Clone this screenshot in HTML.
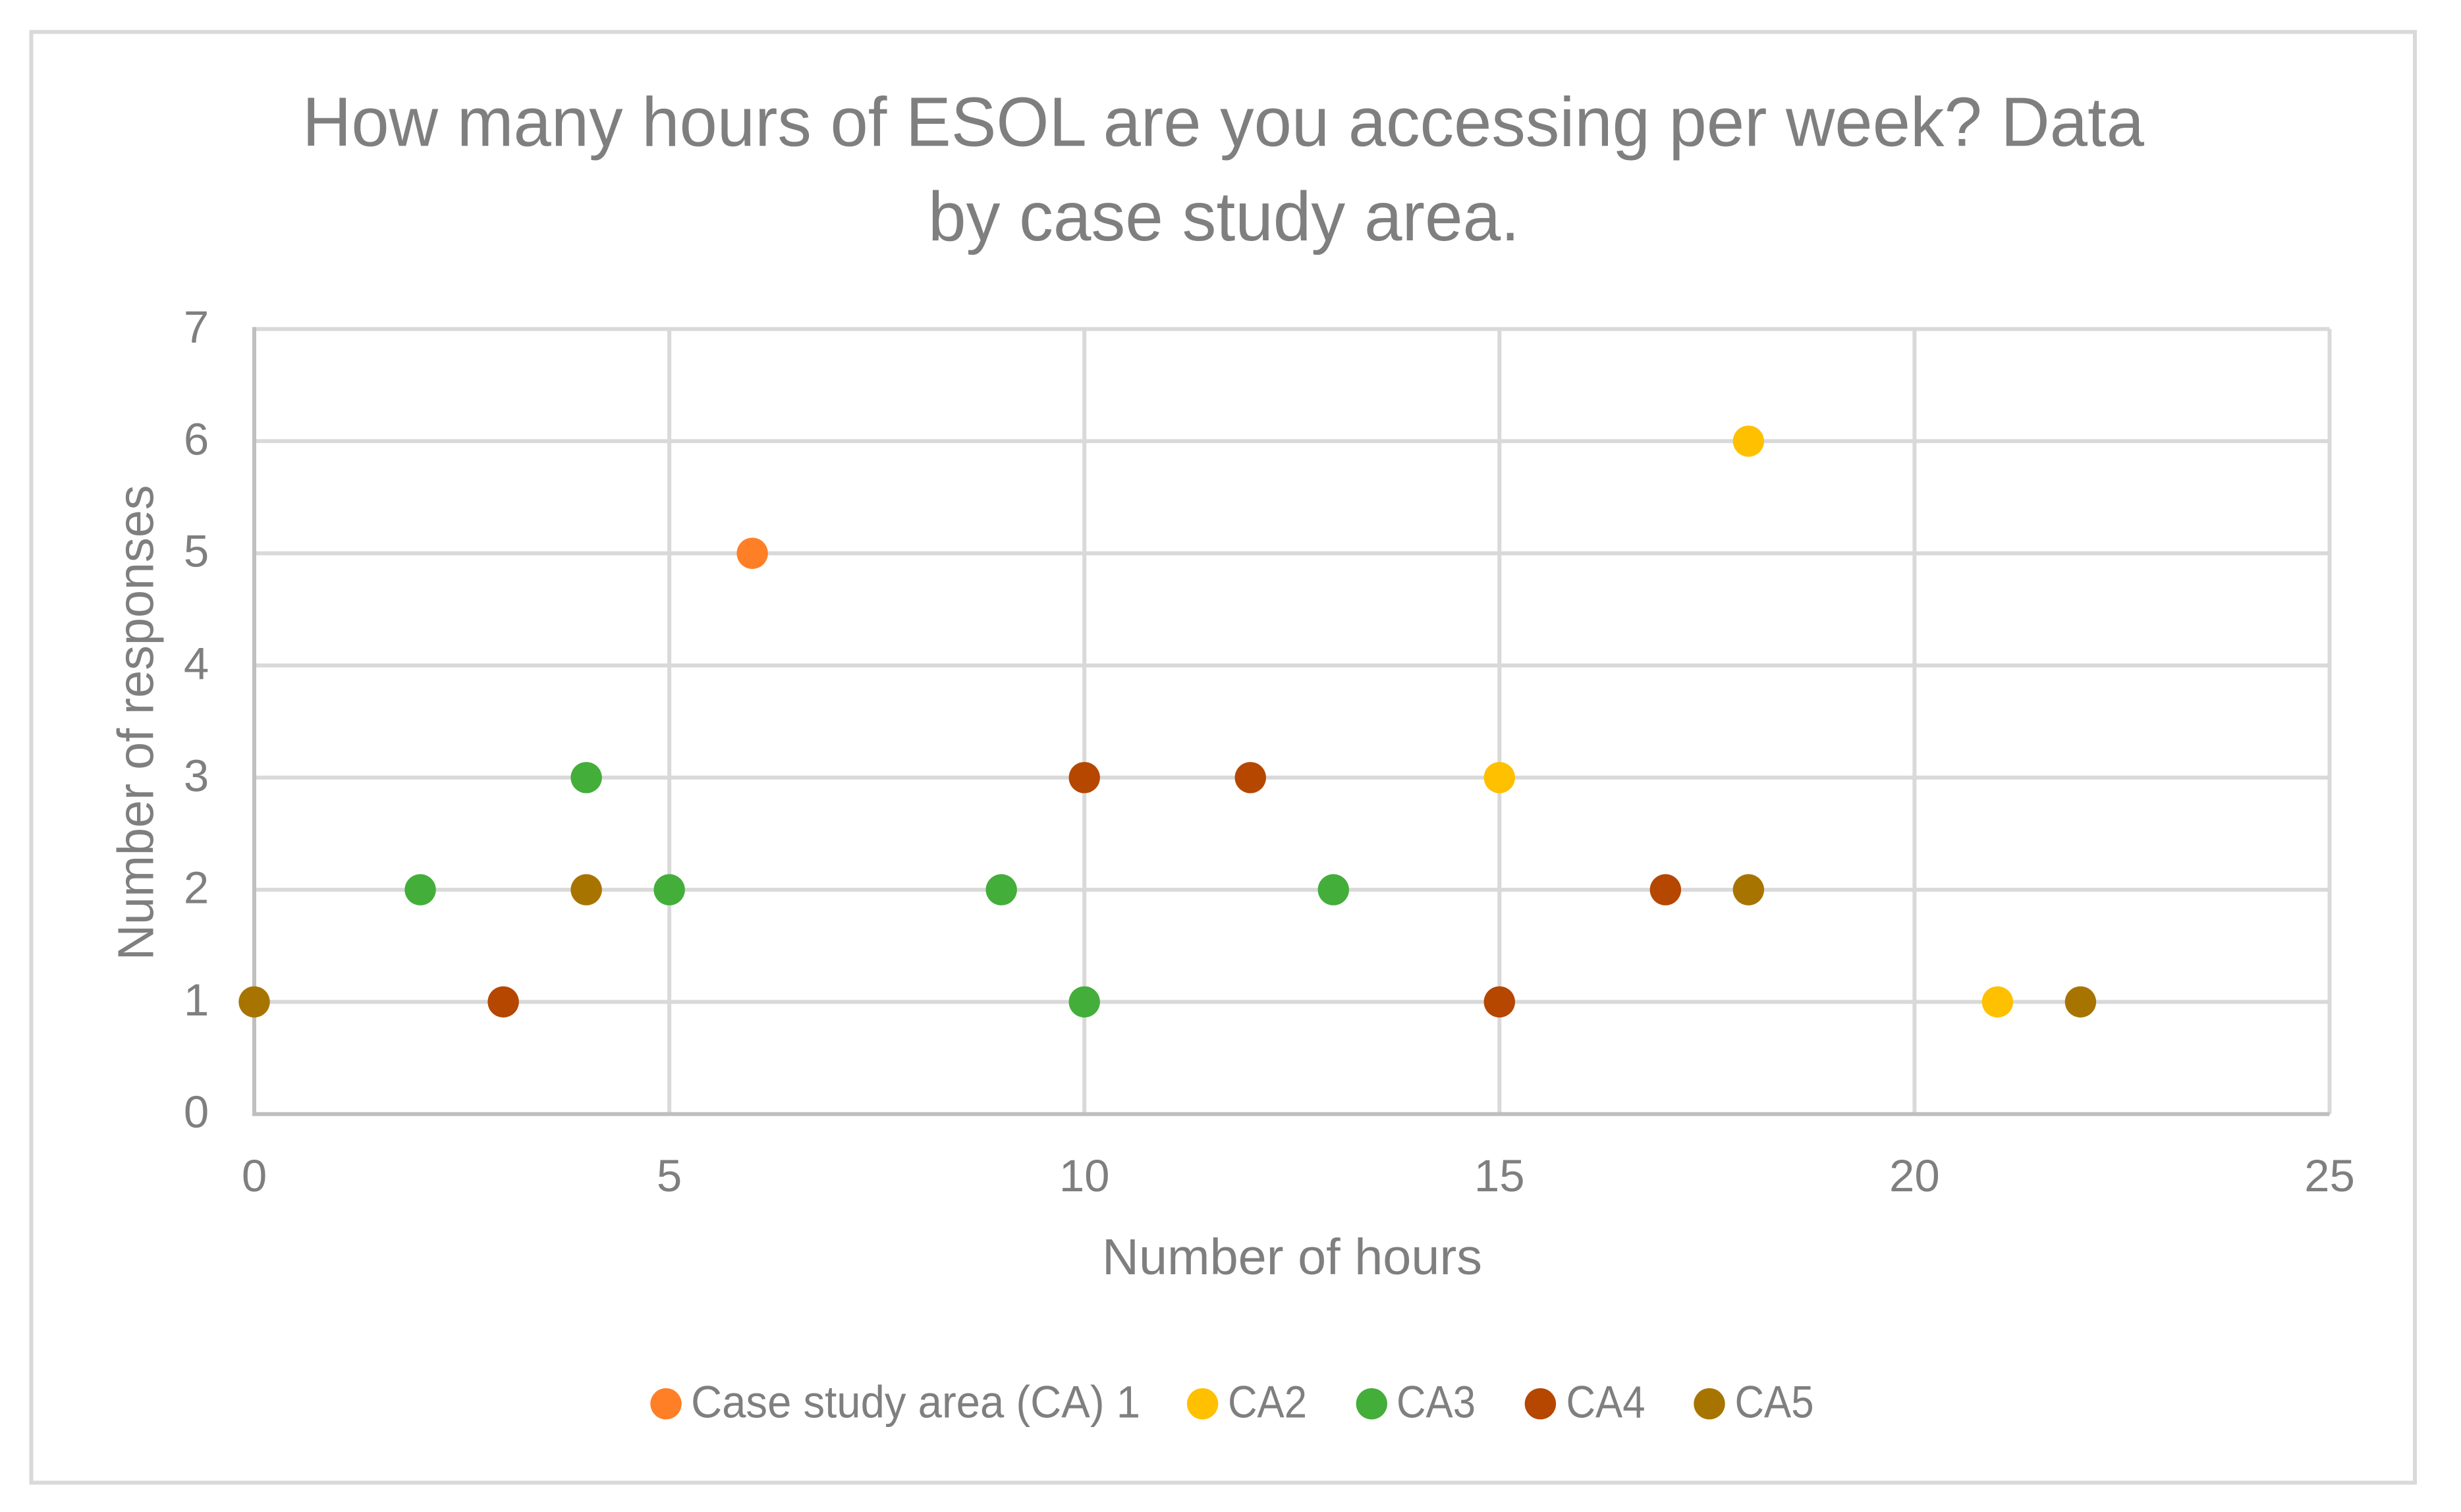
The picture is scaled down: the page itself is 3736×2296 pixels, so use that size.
<!DOCTYPE html>
<html lang="en">
<head>
<meta charset="utf-8">
<title>How many hours of ESOL are you accessing per week?</title>
<style>
html,body{margin:0;padding:0;background:#fff;width:3736px;height:2296px;overflow:hidden}
svg{display:block}
text{font-family:"Liberation Sans",sans-serif;fill:#7f7f7f}
</style>
</head>
<body>
<svg id="chart" xmlns="http://www.w3.org/2000/svg" width="3736" height="2296" viewBox="0 0 3736 2296">
  <rect x="0" y="0" width="3736" height="2296" fill="#ffffff"/>
  <rect x="47.5" y="48.5" width="3618.5" height="2203" fill="#ffffff" stroke="#d9d9d9" stroke-width="6"/>
  <g font-size="106">
    <text x="459" y="221.7" textLength="2796" lengthAdjust="spacingAndGlyphs">How many hours of ESOL are you accessing per week? Data</text>
    <text x="1409" y="365" textLength="898" lengthAdjust="spacingAndGlyphs">by case study area.</text>
  </g>
  <g id="grid"></g>
  <g id="axes"></g>
  <g id="ticks" font-size="69" text-anchor="middle"></g>
  <text x="1673" y="1935" font-size="77" textLength="577" lengthAdjust="spacingAndGlyphs">Number of hours</text>
  <text transform="translate(232.3 1458.5) rotate(-90)" x="0" y="0" font-size="77" textLength="722" lengthAdjust="spacingAndGlyphs">Number of responses</text>
  <g id="marks"></g>
  <g font-size="69">
    <g>
      <circle cx="1011" cy="2131.7" r="23.7" fill="#ff7f27"/>
      <text x="1049" y="2152.7" textLength="682" lengthAdjust="spacingAndGlyphs">Case study area (CA) 1</text>
    </g>
    <g>
      <circle cx="1825.6" cy="2131.7" r="23.7" fill="#ffc000"/>
      <text x="1864" y="2152.7" textLength="120" lengthAdjust="spacingAndGlyphs">CA2</text>
    </g>
    <g>
      <circle cx="2082.3" cy="2131.7" r="23.7" fill="#43ae3a"/>
      <text x="2120" y="2152.7" textLength="120" lengthAdjust="spacingAndGlyphs">CA3</text>
    </g>
    <g>
      <circle cx="2338.4" cy="2131.7" r="23.7" fill="#b54700"/>
      <text x="2377.5" y="2152.7" textLength="120" lengthAdjust="spacingAndGlyphs">CA4</text>
    </g>
    <g>
      <circle cx="2595" cy="2131.7" r="23.7" fill="#a87400"/>
      <text x="2633.5" y="2152.7" textLength="120" lengthAdjust="spacingAndGlyphs">CA5</text>
    </g>
  </g>
</svg>
<script>
const xTickLabels = [0, 5, 10, 15, 20, 25];
const yTickLabels = [0, 1, 2, 3, 4, 5, 6, 7];

const seriesNames = ['ca1', 'ca2', 'ca3', 'ca4', 'ca5'];
const seriesColors = ['#ff7f27', '#ffc000', '#43ae3a', '#b54700', '#a87400'];

const ca1Hours = [6];
const ca1Responses = [5];
const ca2Hours = [18, 15, 21];
const ca2Responses = [6, 3, 1];
const ca3Hours = [4, 2, 5, 9, 13, 10];
const ca3Responses = [3, 2, 2, 2, 2, 1];
const ca4Hours = [10, 12, 17, 3, 15];
const ca4Responses = [3, 3, 2, 1, 1];
const ca5Hours = [4, 18, 0, 22];
const ca5Responses = [2, 2, 1, 1];

const hoursBySeries = [ca1Hours, ca2Hours, ca3Hours, ca4Hours, ca5Hours];
const responsesBySeries = [ca1Responses, ca2Responses, ca3Responses, ca4Responses, ca5Responses];

const NS = 'http://www.w3.org/2000/svg';
const plotLeft = 386, plotRight = 3536.5, plotBottom = 1691.7, plotTop = 499.6;
const xMin = 0, xMax = 25, yMin = 0, yMax = 7;

function xScale(v) { return plotLeft + (v - xMin) / (xMax - xMin) * (plotRight - plotLeft); }
function yScale(v) { return plotBottom - (v - yMin) / (yMax - yMin) * (plotBottom - plotTop); }

function drawLine(parent, x1, y1, x2, y2, color) {
  const l = document.createElementNS(NS, 'line');
  l.setAttribute('x1', x1);
  l.setAttribute('y1', y1);
  l.setAttribute('x2', x2);
  l.setAttribute('y2', y2);
  l.setAttribute('stroke', color);
  l.setAttribute('stroke-width', 6);
  parent.appendChild(l);
  return l;
}

const grid = document.getElementById('grid');
const axes = document.getElementById('axes');
const ticks = document.getElementById('ticks');
const marks = document.getElementById('marks');

xTickLabels.forEach(function (t) {
  if (t !== xMin) {
    const g = drawLine(grid, xScale(t), plotTop, xScale(t), plotBottom, '#d9d9d9');
    
    
  }
  const label = document.createElementNS(NS, 'text');
  label.setAttribute('x', xScale(t));
  label.setAttribute('y', 1809);
  label.textContent = t;
  
  
  ticks.appendChild(label);
});

yTickLabels.forEach(function (t) {
  if (t !== yMin) {
    const g = drawLine(grid, plotLeft, yScale(t), plotRight, yScale(t), '#d9d9d9');
    
    
  }
  const label = document.createElementNS(NS, 'text');
  label.setAttribute('x', 298);
  label.setAttribute('y', yScale(t) + 20.5);
  label.textContent = t;
  
  
  ticks.appendChild(label);
});

const xAxisLine = drawLine(axes, plotLeft - 3, yScale(yMin), plotRight, yScale(yMin), '#bfbfbf');


const yAxisLine = drawLine(axes, xScale(xMin), plotTop - 3, xScale(xMin), plotBottom, '#bfbfbf');



seriesNames.forEach(function (name, s) {
  const group = document.createElementNS(NS, 'g');
  
  
  marks.appendChild(group);
  hoursBySeries[s].forEach(function (h, i) {
    const c = document.createElementNS(NS, 'circle');
    c.setAttribute('cx', xScale(h));
    c.setAttribute('cy', yScale(responsesBySeries[s][i]));
    c.setAttribute('r', 23.7);
    c.setAttribute('fill', seriesColors[s]);
    
    
    group.appendChild(c);
  });
});
</script>
</body>
</html>
